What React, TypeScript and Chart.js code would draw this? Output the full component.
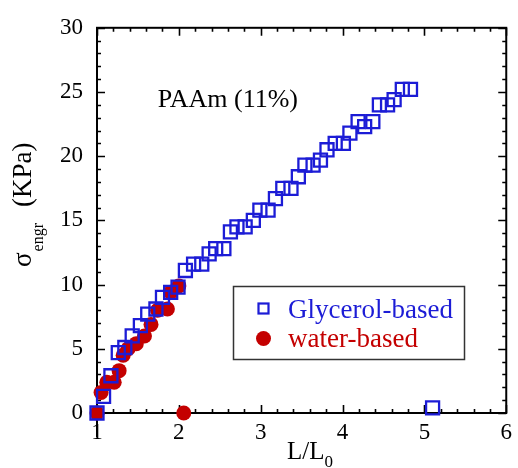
import React, { useEffect, useRef } from "react";
import { Chart, registerables } from "chart.js";
Chart.register(...registerables);

const glycerolX = [1.0, 1.08, 1.17, 1.26, 1.34, 1.43, 1.53, 1.62, 1.72, 1.8, 1.9, 1.99, 2.08, 2.18, 2.28, 2.37, 2.45, 2.55, 2.63, 2.71, 2.81, 2.91, 2.99, 3.09, 3.18, 3.27, 3.37, 3.46, 3.54, 3.64, 3.73, 3.81, 3.91, 4.01, 4.09, 4.19, 4.27, 4.37, 4.45, 4.55, 4.63, 4.73, 4.83, 5.1];
const glycerolY = [0.0, 1.3, 2.9, 4.7, 5.1, 6.0, 6.8, 7.7, 8.1, 9.0, 9.4, 9.8, 11.1, 11.6, 11.6, 12.4, 12.8, 12.8, 14.1, 14.5, 14.5, 15.0, 15.8, 15.8, 16.7, 17.5, 17.5, 18.4, 19.3, 19.3, 19.7, 20.5, 21.0, 21.0, 21.8, 22.7, 22.3, 22.7, 24.0, 24.0, 24.4, 25.2, 25.2, 0.4];
const waterX = [1.0, 1.05, 1.12, 1.21, 1.27, 1.32, 1.38, 1.48, 1.58, 1.66, 1.74, 1.86, 1.9, 2.0, 2.06];
const waterY = [0.0, 1.6, 2.4, 2.4, 3.3, 4.5, 5.0, 5.4, 6.0, 6.9, 8.0, 8.1, 9.4, 9.9, 0.0];

const xMin = 1, xMax = 6, xStep = 1, xMinor = 0.2;
const yMin = 0, yMax = 30, yStep = 5, yMinor = 1;

const seriesNames = ["Glycerol-based", "water-based"];
const annotationText = "PAAm (11%)";

const SERIF = "'Liberation Serif', 'Times New Roman', Times, serif";
const BLUE = "#1c1cd6";
const RED = "#c40000";

const framePlugin = {
  id: "frame",
  beforeDatasetsDraw(chart: any) {
    const { ctx, chartArea: a, scales } = chart;
    const xs = scales.x, ys = scales.y;
    ctx.save();
    ctx.strokeStyle = "#000";
    ctx.lineWidth = 1.6;
    ctx.beginPath();
    const nx = Math.round((xMax - xMin) / xMinor);
    for (let i = 0; i <= nx; i++) {
      const v = xMin + i * xMinor;
      const px = Math.round(xs.getPixelForValue(v)) + 0.5;
      const len = i % Math.round(xStep / xMinor) === 0 ? 8 : 4;
      ctx.moveTo(px, a.bottom); ctx.lineTo(px, a.bottom - len);
      ctx.moveTo(px, a.top); ctx.lineTo(px, a.top + len);
    }
    const ny = Math.round((yMax - yMin) / yMinor);
    for (let i = 0; i <= ny; i++) {
      const v = yMin + i * yMinor;
      const py = Math.round(ys.getPixelForValue(v)) + 0.5;
      const len = i % Math.round(yStep / yMinor) === 0 ? 8 : 4;
      ctx.moveTo(a.left, py); ctx.lineTo(a.left + len, py);
      ctx.moveTo(a.right, py); ctx.lineTo(a.right - len, py);
    }
    ctx.stroke();
    ctx.lineWidth = 2;
    ctx.strokeRect(a.left, a.top, a.right - a.left, a.bottom - a.top);
    ctx.beginPath();
    ctx.moveTo(a.left, a.bottom);
    ctx.lineTo(a.left, a.bottom + 24);
    ctx.stroke();
    ctx.restore();
  },
  afterDraw(chart: any) {
    const { ctx } = chart;
    ctx.save();
    // annotation
    ctx.fillStyle = "#000";
    ctx.font = `26px ${SERIF}`;
    ctx.textAlign = "right";
    ctx.textBaseline = "alphabetic";
    ctx.fillText(annotationText, 298, 107);

    // x title
    ctx.textAlign = "left";
    ctx.font = `25px ${SERIF}`;
    const xt = "L/L";
    ctx.fillText(xt, 287, 459);
    const w = ctx.measureText(xt).width;
    ctx.font = `17px ${SERIF}`;
    ctx.fillText("0", 287 + w, 467);

    // y title
    ctx.save();
    ctx.translate(31, 267);
    ctx.rotate(-Math.PI / 2);
    ctx.font = `27px ${SERIF}`;
    ctx.fillText("σ", 0, 0);
    const sw = ctx.measureText("σ").width;
    ctx.font = `16px ${SERIF}`;
    ctx.fillText("engr", sw + 1, 12);
    ctx.font = `27px ${SERIF}`;
    ctx.fillText("(KPa)", 60, 0);
    ctx.restore();

    // legend
    ctx.fillStyle = "#fff";
    ctx.fillRect(233, 286, 232, 74);
    ctx.strokeStyle = "#333";
    ctx.lineWidth = 1.5;
    ctx.strokeRect(233.5, 286.5, 231, 73);
    ctx.strokeStyle = BLUE;
    ctx.lineWidth = 2.2;
    ctx.strokeRect(258.5, 303.5, 10, 10);
    ctx.fillStyle = RED;
    ctx.beginPath();
    ctx.arc(263.5, 338.5, 7.5, 0, Math.PI * 2);
    ctx.fill();
    ctx.font = `27px ${SERIF}`;
    ctx.textAlign = "left";
    ctx.fillStyle = BLUE;
    ctx.fillText(seriesNames[0], 288, 318);
    ctx.fillStyle = RED;
    ctx.fillText(seriesNames[1], 288, 347);
    ctx.restore();
  },
};

export default function App() {
  const ref = useRef<HTMLCanvasElement | null>(null);
  useEffect(() => {
    if (!ref.current) return;
    const chart = new Chart(ref.current, {
      type: "scatter",
      data: {
        datasets: [
          {
            label: seriesNames[0],
            data: glycerolX.map((x, i) => ({ x, y: glycerolY[i] })),
            pointStyle: "rect",
            pointRadius: 9.2,
            pointHoverRadius: 9.2,
            borderColor: BLUE,
            backgroundColor: "rgba(0,0,0,0)",
            pointBorderWidth: 2.3,
            clip: false,
          } as any,
          {
            label: seriesNames[1],
            data: waterX.map((x, i) => ({ x, y: waterY[i] })),
            pointStyle: "circle",
            pointRadius: 7.5,
            pointHoverRadius: 7.5,
            borderColor: RED,
            backgroundColor: RED,
            pointBorderWidth: 0,
            clip: false,
          } as any,
        ],
      },
      options: {
        responsive: false,
        animation: false,
        events: [],
        layout: { padding: { top: 25, right: 6, left: 0, bottom: 0 } },
        plugins: { legend: { display: false }, tooltip: { enabled: false } },
        scales: {
          x: {
            type: "linear",
            min: xMin,
            max: xMax,
            grid: { display: false, drawTicks: false },
            border: { display: false },
            ticks: {
              stepSize: xStep,
              color: "#000",
              font: { family: SERIF, size: 23 },
              padding: 6,
              maxRotation: 0,
              autoSkip: false,
            },
            afterFit: (s: any) => { s.height = 55; },
          },
          y: {
            type: "linear",
            min: yMin,
            max: yMax,
            grid: { display: false, drawTicks: false },
            border: { display: false },
            ticks: {
              stepSize: yStep,
              color: "#000",
              font: { family: SERIF, size: 23 },
              padding: 14,
            },
            afterFit: (s: any) => { s.width = 97; },
          },
        },
      },
      plugins: [framePlugin],
    });
    return () => chart.destroy();
  }, []);
  return (
    <div style={{ position: "fixed", left: 0, top: 0, width: 518, height: 468, background: "#fff" }}>
      <canvas ref={ref} width={518} height={468} style={{ display: "block", width: 518, height: 468 }} />
    </div>
  );
}
